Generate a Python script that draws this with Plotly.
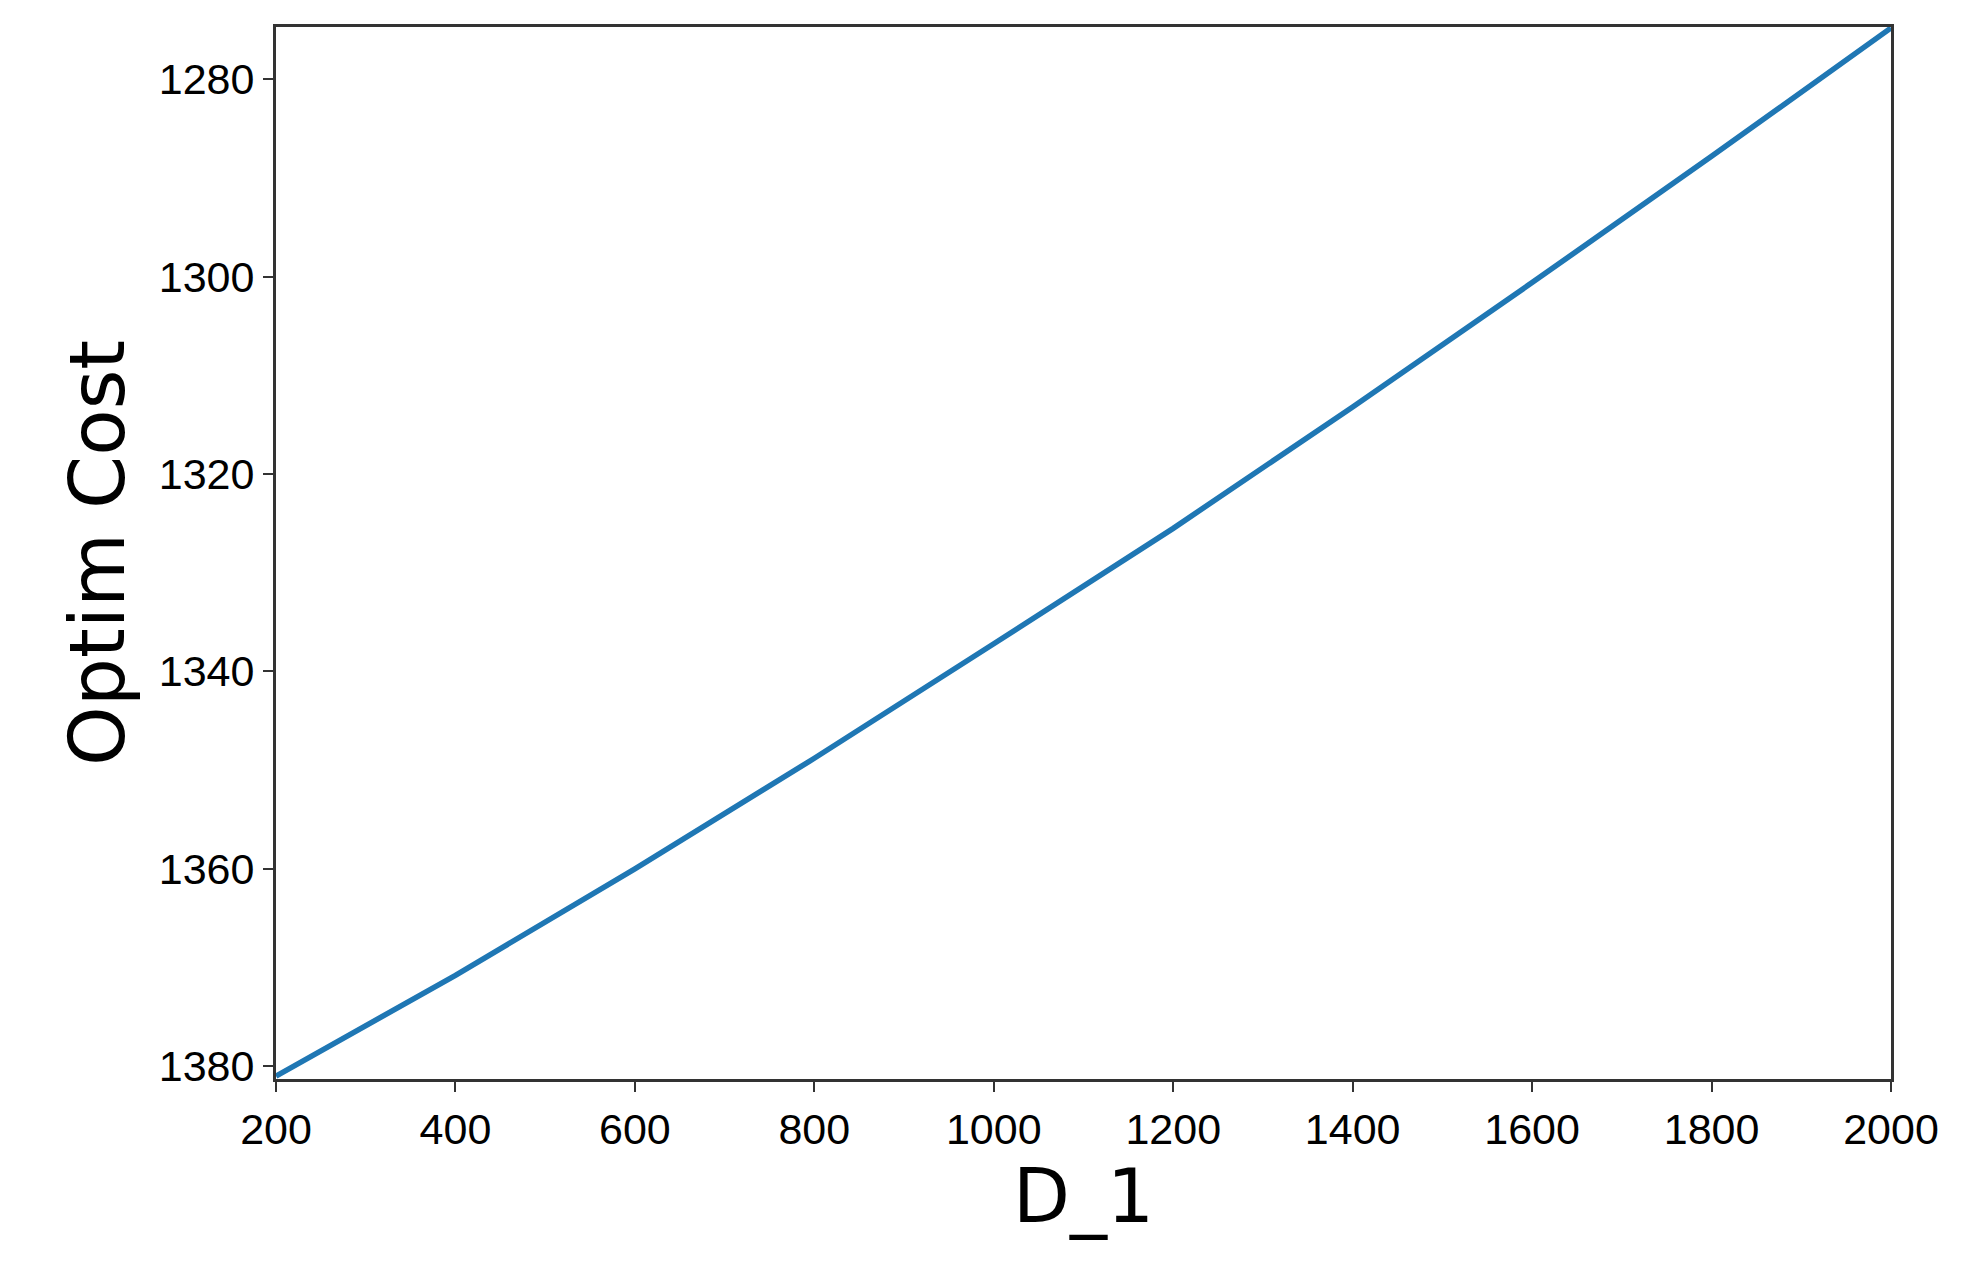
import plotly.graph_objects as go

# demand D_1 vs optimal cost
d_1 = [200, 400, 600, 800, 1000, 1200, 1400, 1600, 1800, 2000]
optim_cost = [1381.0, 1370.8, 1360.0, 1348.8, 1337.2, 1325.5, 1313.2, 1300.6, 1287.8, 1274.8]

fig = go.Figure(go.Scatter(x=d_1, y=optim_cost, mode="lines",
                           line=dict(color="#1f77b4", width=5.5)))

axis_common = dict(showgrid=False, zeroline=False, showline=True, mirror=True,
                   linecolor="#333333", linewidth=3, ticks="outside", ticklen=10,
                   tickwidth=2, tickcolor="#333333",
                   tickfont=dict(family="Liberation Sans", size=43, color="black"))

fig.update_xaxes(title=dict(text="D_1", font=dict(family="DejaVu Sans", size=74, color="black"),
                            standoff=4),
                 range=[200, 2000], tickvals=list(range(200, 2001, 200)), **axis_common)
fig.update_yaxes(title=dict(text="Optim Cost", font=dict(family="DejaVu Sans", size=76, color="black"),
                            standoff=10),
                 range=[1381.3, 1274.7], tickvals=[1280, 1300, 1320, 1340, 1360, 1380], **axis_common)

fig.update_layout(width=1971, height=1273, plot_bgcolor="white", paper_bgcolor="white",
                  showlegend=False, margin=dict(l=268, r=88, t=19, b=202))

fig.write_html("out.html")
